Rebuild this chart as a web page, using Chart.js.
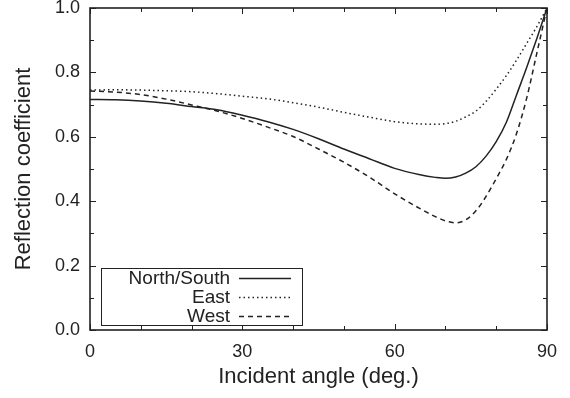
<!DOCTYPE html>
<html>
<head>
<meta charset="utf-8">
<script src="https://cdn.jsdelivr.net/npm/chart.js@4"></script>
<style>
  body { margin: 0; background: #fff; }
  #wrap { width: 570px; height: 398px; }
</style>
</head>
<body>
<div id="wrap"><canvas id="reflChart"></canvas></div>
<script>
// incident angle (deg.) and reflection coefficient
const angles = [0,5,10,15,20,25,30,35,40,45,50,55,60,65,68,70,72,74,76,78,80,82,84,86,88,90];
const northSouth = [0.716,0.715,0.711,0.704,0.694,0.684,0.667,0.647,0.623,0.594,0.562,0.532,0.502,0.482,0.474,0.471,0.475,0.487,0.507,0.540,0.585,0.645,0.730,0.815,0.905,1.0];
const east = [0.745,0.746,0.745,0.743,0.740,0.734,0.726,0.718,0.706,0.692,0.676,0.661,0.647,0.640,0.639,0.641,0.648,0.662,0.680,0.710,0.748,0.790,0.838,0.890,0.942,1.0];
const west = [0.742,0.739,0.731,0.717,0.699,0.680,0.657,0.630,0.601,0.562,0.521,0.475,0.423,0.377,0.352,0.339,0.333,0.342,0.370,0.415,0.470,0.530,0.610,0.720,0.860,1.0];
const xTicks = [0,30,60,90];
const yTicks = [0,0.2,0.4,0.6,0.8,1.0];

const ink = '#222';
const FONT = 'Liberation Sans, Arial, Helvetica, sans-serif';

function pts(vals){ return angles.map((a,i) => ({x:a, y:vals[i]})); }

// gnuplot-ish frame: box, inward ticks (mirrored) and a boxed legend
const framePlugin = {
  id: 'frame',
  afterDraw(chart){
    const ctx = chart.ctx, a = chart.chartArea;
    const xs = chart.scales.x, ys = chart.scales.y;
    ctx.save();
    ctx.strokeStyle = ink;
    ctx.lineWidth = 1;
    ctx.beginPath();
    for (let d = 0; d <= 90; d += 10) {
      const px = Math.round(xs.getPixelForValue(d)) + 0.5;
      const len = (d % 30 === 0) ? 6 : 4;
      ctx.moveTo(px, a.bottom); ctx.lineTo(px, a.bottom - len);
      ctx.moveTo(px, a.top); ctx.lineTo(px, a.top + len);
    }
    for (let k = 0; k <= 10; k++) {
      const py = Math.round(ys.getPixelForValue(k/10)) + 0.5;
      const len = (k % 2 === 0) ? 6 : 4;
      ctx.moveTo(a.left, py); ctx.lineTo(a.left + len, py);
      ctx.moveTo(a.right, py); ctx.lineTo(a.right - len, py);
    }
    ctx.stroke();
    ctx.lineWidth = 1.6;
    ctx.strokeRect(a.left, a.top, a.right - a.left, a.bottom - a.top);

    // legend
    const bx = a.left + 11, bw = 201, bh = 57, by = a.bottom - 5 - bh;
    ctx.lineWidth = 1;
    ctx.fillStyle = '#fff';
    ctx.fillRect(bx, by, bw, bh);
    ctx.strokeRect(bx + 0.5, by + 0.5, bw, bh);
    ctx.font = '19px ' + FONT;
    ctx.textAlign = 'right';
    ctx.textBaseline = 'middle';
    chart.data.datasets.forEach((ds, i) => {
      const cy = by + 10 + i * 19;
      ctx.fillStyle = ink;
      ctx.fillText(ds.label, bx + 129, cy + 1);
      ctx.beginPath();
      ctx.setLineDash(ds.borderDash || []);
      ctx.lineWidth = ds.borderWidth;
      ctx.moveTo(bx + 138, cy + 0.5);
      ctx.lineTo(bx + 190, cy + 0.5);
      ctx.stroke();
    });
    ctx.restore();
  }
};

new Chart(document.getElementById('reflChart'), {
  type: 'line',
  data: {
    datasets: [
      { label: 'North/South', data: pts(northSouth), borderColor: ink, borderWidth: 1.5, borderDash: [] },
      { label: 'East', data: pts(east), borderColor: ink, borderWidth: 1.5, borderDash: [1.5, 3] },
      { label: 'West', data: pts(west), borderColor: ink, borderWidth: 1.5, borderDash: [5, 4] }
    ]
  },
  options: {
    responsive: true,
    maintainAspectRatio: false,
    animation: false,
    devicePixelRatio: 1,
    layout: { padding: { top: 8, right: 23, left: 0, bottom: 0 } },
    elements: { point: { radius: 0 }, line: { cubicInterpolationMode: 'monotone' } },
    plugins: { legend: { display: false }, tooltip: { enabled: false } },
    scales: {
      x: {
        type: 'linear', min: 0, max: 90,
        afterFit(s){ s.height = 68; s.paddingLeft = 0; s.paddingRight = 0; },
        afterBuildTicks(s){ s.ticks = xTicks.map(v => ({value: v})); },
        grid: { display: false, drawTicks: false },
        border: { display: false },
        ticks: { color: ink, font: { family: FONT, size: 18 }, padding: 11, maxRotation: 0 },
        title: { display: true, text: 'Incident angle (deg.)', color: ink, font: { family: FONT, size: 22 }, padding: { top: 0, bottom: 8 } }
      },
      y: {
        type: 'linear', min: 0, max: 1,
        afterFit(s){ s.width = 90; s.paddingTop = 0; s.paddingBottom = 0; },
        afterBuildTicks(s){ s.ticks = yTicks.map(v => ({value: v})); },
        grid: { display: false, drawTicks: false },
        border: { display: false },
        ticks: { color: ink, font: { family: FONT, size: 18 }, padding: 10, callback: v => v.toFixed(1) },
        title: { display: true, text: 'Reflection coefficient', color: ink, font: { family: FONT, size: 22 }, padding: { top: 11 } }
      }
    }
  },
  plugins: [framePlugin]
});
</script>
</body>
</html>
